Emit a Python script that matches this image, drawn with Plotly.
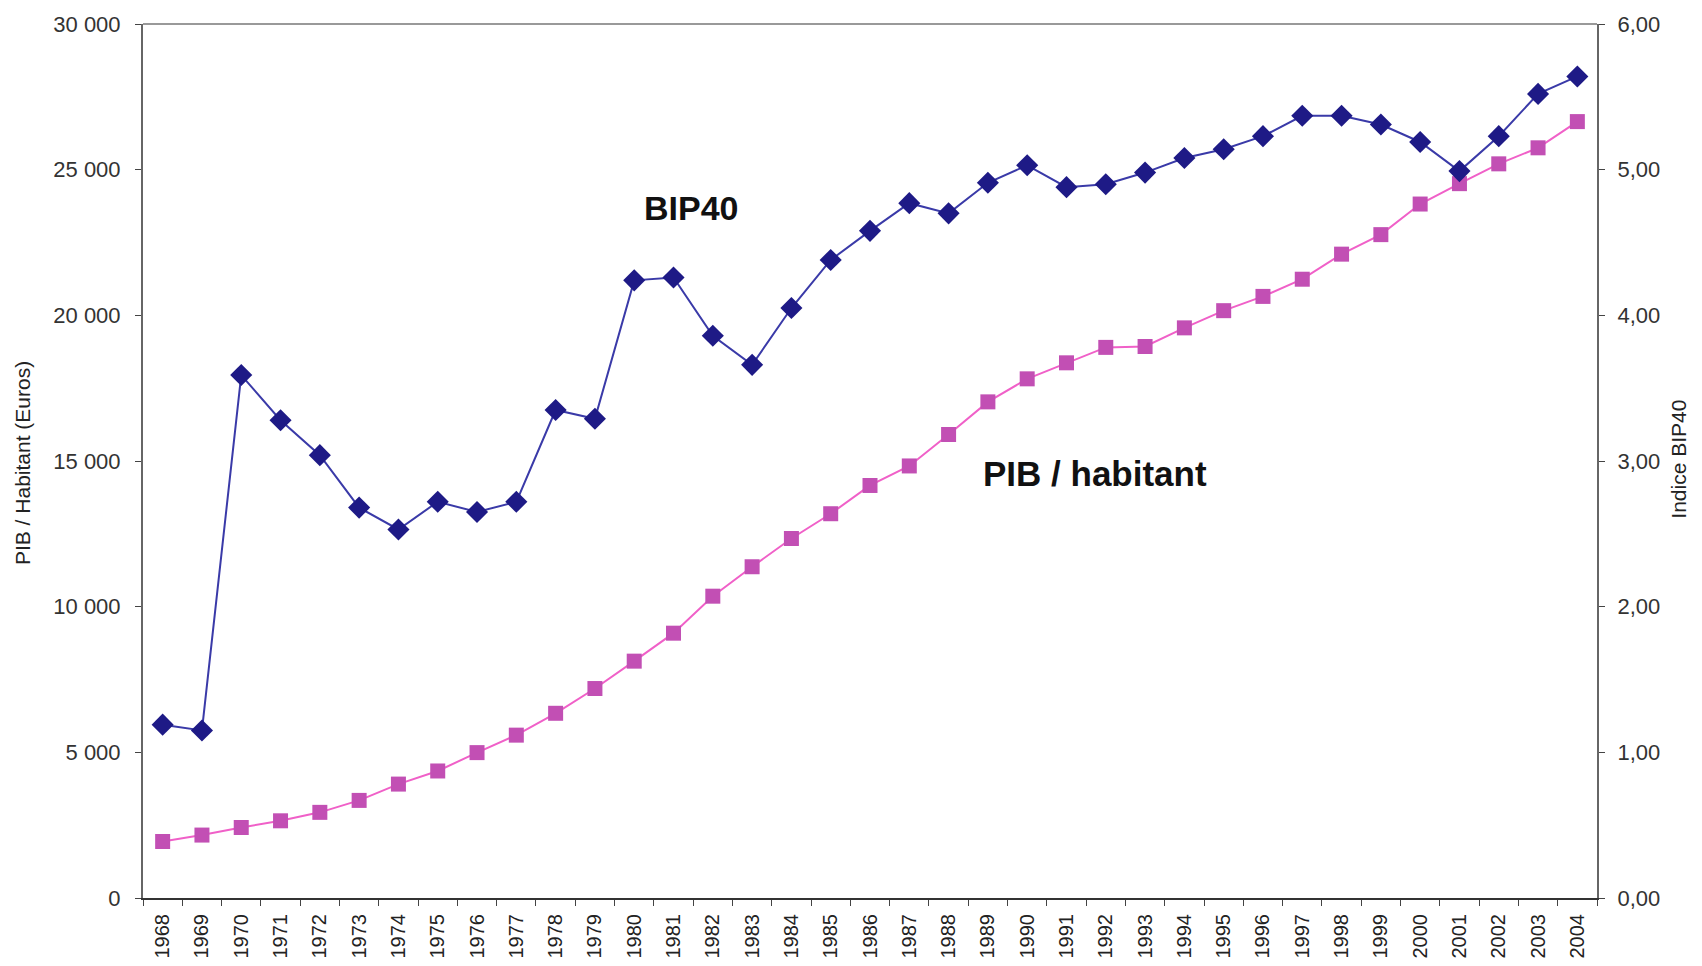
import plotly.graph_objects as go

years = [str(y) for y in range(1968, 2005)]

# PIB / habitant (euros), left axis
pib_habitant = [1940, 2160, 2420, 2650, 2940, 3350, 3910, 4360, 4990, 5590,
                6340, 7190, 8130, 9090, 10360, 11370, 12340, 13190, 14160, 14830,
                15910, 17030, 17820, 18370, 18900, 18930, 19570, 20160, 20650, 21240,
                22100, 22770, 23820, 24520, 25200, 25750, 26650]

# Indice BIP40, right axis
bip40 = [1.19, 1.15, 3.59, 3.28, 3.04, 2.68, 2.53, 2.72, 2.65, 2.72,
         3.35, 3.29, 4.24, 4.26, 3.86, 3.66, 4.05, 4.38, 4.58, 4.77,
         4.70, 4.91, 5.03, 4.88, 4.90, 4.98, 5.08, 5.14, 5.23, 5.37,
         5.37, 5.31, 5.19, 4.99, 5.23, 5.52, 5.64]

FONT = "Liberation Sans, Arial, sans-serif"

fig = go.Figure()
fig.add_trace(go.Scatter(x=years, y=pib_habitant, name="PIB / habitant", mode="lines+markers",
                         line=dict(color="#f060c8", width=2),
                         marker=dict(symbol="square", size=15, color="#c24fb4")))
fig.add_trace(go.Scatter(x=years, y=bip40, name="BIP40", mode="lines+markers", yaxis="y2",
                         line=dict(color="#3a3aa8", width=2),
                         marker=dict(symbol="diamond", size=17, color="#1e1a86")))

axis_common = dict(showgrid=False, zeroline=False, automargin=False,
                   showline=True, linecolor="#666", linewidth=2,
                   ticks="outside", ticklen=6, tickcolor="#444")

# the page body adds an 8px margin, so the figure is kept 16px smaller
fig.update_layout(
    width=1686, height=950,
    paper_bgcolor="white", plot_bgcolor="white",
    margin=dict(l=135, r=97, t=16, b=60),
    showlegend=False,
    separators=", ",
    font=dict(family=FONT, size=22, color="#333"),
    xaxis=dict(type="category", range=[-0.5, 36.5], tickson="boundaries",
               tickangle=-90, ticklabelstandoff=6,
               tickfont=dict(size=20, color="#222"),
               **{**axis_common, "linecolor": "#333"}),
    yaxis=dict(range=[0, 30000], dtick=5000, tickformat=",d", ticklabelstandoff=10,
               tickfont=dict(size=22, color="#333"), **axis_common),
    yaxis2=dict(range=[0, 6], dtick=1, tickformat=".2f", overlaying="y", side="right",
                ticklabelstandoff=8, tickfont=dict(size=22, color="#333"), **axis_common),
    shapes=[dict(type="line", xref="paper", yref="paper", x0=0, x1=1, y0=1, y1=1,
                 line=dict(color="#999", width=2))],
    annotations=[
        dict(text="PIB / Habitant (Euros)", xref="paper", yref="paper", x=-0.083, y=0.498,
             xanchor="center", yanchor="middle",
             textangle=-90, showarrow=False, font=dict(size=21, color="#222")),
        dict(text="Indice BIP40", xref="paper", yref="paper", x=1.056, y=0.502,
             xanchor="center", yanchor="middle",
             textangle=-90, showarrow=False, font=dict(size=21, color="#222")),
        dict(text="<b>BIP40</b>", xref="paper", yref="paper", x=0.377, y=0.789,
             xanchor="center", yanchor="middle",
             showarrow=False, font=dict(size=34, color="#111")),
        dict(text="<b>PIB / habitant</b>", xref="paper", yref="paper", x=0.655, y=0.486,
             xanchor="center", yanchor="middle",
             showarrow=False, font=dict(size=35, color="#111")),
    ],
)

fig.write_html("out.html")
